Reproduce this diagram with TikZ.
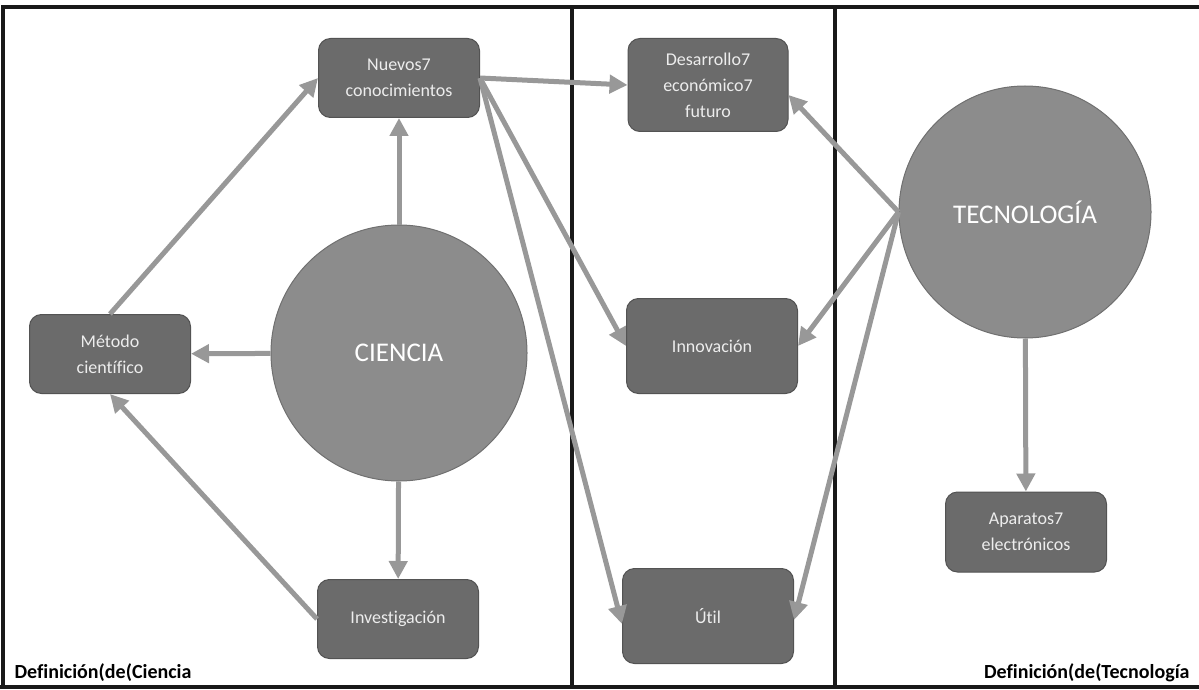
\documentclass[tikz,border=0pt]{standalone}
\usepackage{fontspec}
\setmainfont{Carlito}[Ligatures=CommonOff]
\usetikzlibrary{arrows.meta}

\definecolor{cajagris}{HTML}{6B6B6B}
\definecolor{bordegris}{HTML}{535353}
\definecolor{circgris}{HTML}{8C8C8C}
\definecolor{circborde}{HTML}{707070}
\definecolor{flechagris}{HTML}{989898}
\definecolor{textogris}{HTML}{EDEDED}

\tikzset{
    caja/.style={rectangle, rounded corners=12pt, draw=bordegris, line width=1pt,
        fill=cajagris, text=textogris, align=center, minimum width=161pt,
        minimum height=79pt, font=\fontsize{18}{26}\selectfont},
    circulo/.style={circle, draw=circborde, line width=1pt, fill=circgris,
        text=white, font=\fontsize{27}{32}\selectfont},
    flecha/.style={draw=flechagris, line width=5pt,
        -{Triangle[length=18pt,width=18pt]}},
    marco/.style={line width=4pt, black!90},
    pie/.style={font=\fontsize{20}{22}\selectfont\bfseries}
}

\begin{document}
\begin{tikzpicture}[x=1pt,y=-1pt]
        \useasboundingbox (0,0) rectangle (1199,690);

        % marco de las tres columnas
        \draw[marco] (3,687) -- (3,7) -- (1199,7);
        \draw[marco] (0,687) -- (1199,687);
        \draw[marco] (572,7) -- (572,687);
        \draw[marco] (835,7) -- (835,687);

        \node[circulo, minimum size=256pt] (ciencia) at (399, 353) {CIENCIA};
        \node[circulo, minimum size=252pt] (tecno) at (1025, 212) {TECNOLOGÍA};

        \node[caja] (nuevos) at (399, 78) {Nuevos7\\conocimientos};
        \node[caja] (metodo) at (110, 354) {Método\\científico};
        \node[caja] (invest) at (398, 619) {Investigación};
        \node[caja, minimum width=160pt, minimum height=93pt] (desarrollo) at (708, 85) {Desarrollo7\\económico7\\futuro};
        \node[caja, minimum width=171pt, minimum height=95pt] (innov) at (712, 346) {Innovación};
        \node[caja, minimum width=171pt, minimum height=95pt] (util) at (708, 616) {Útil};
        \node[caja, minimum height=80pt] (aparatos) at (1026, 532) {Aparatos7\\electrónicos};

        \draw[flecha] (ciencia) to (nuevos);
        \draw[flecha] (ciencia) to (metodo);
        \draw[flecha] (ciencia) to (invest);
        \draw[flecha] (metodo.north) to (nuevos.west);
        \draw[flecha] (invest.west) to (metodo.south);

        \draw[flecha] (nuevos.east) to (desarrollo.west);
        \draw[flecha] (nuevos.east) to (innov.west);
        \draw[flecha] (nuevos.east) to ([yshift=-8pt]util.west);

        \draw[flecha] (tecno.west) to ([yshift=-10pt]desarrollo.east);
        \draw[flecha] (tecno.west) to (innov.east);
        \draw[flecha] (tecno.west) to ([yshift=-4pt]util.east);
        \draw[flecha] (tecno) to (aparatos);

        \node[pie, anchor=base west] (pieciencia) at (11, 678) {Definición(de(Ciencia};
        \node[pie, anchor=base east] (pietecno) at (1193, 678) {Definición(de(Tecnología};

    \end{tikzpicture}
\end{document}
